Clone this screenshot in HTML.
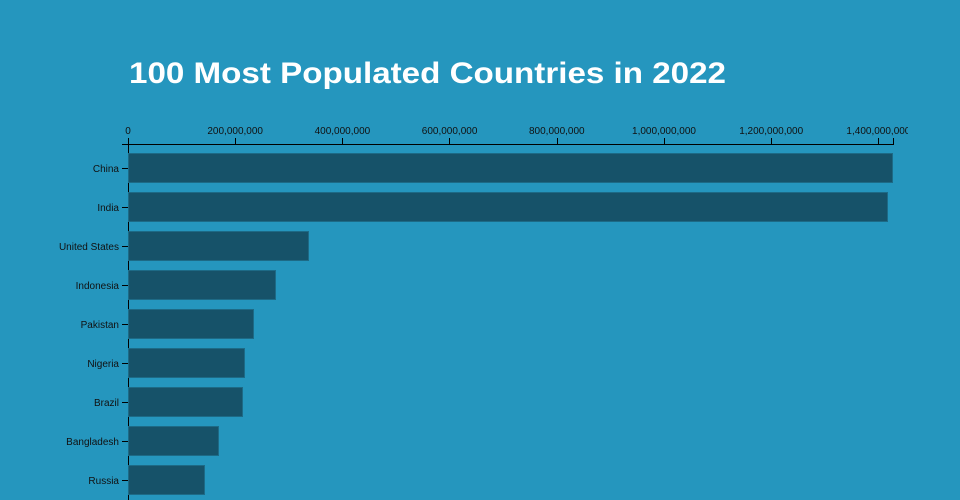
<!DOCTYPE html>
<html><head><meta charset="utf-8"><style>
html,body{margin:0;padding:0;background:#2596be;width:960px;height:500px;overflow:hidden}
svg{display:block;font-family:"Liberation Sans",sans-serif}
</style></head><body>
<svg width="960" height="500" viewBox="0 0 960 500">
<rect width="960" height="500" fill="#2596be"/>
<text x="129" y="83" fill="#fff" font-size="30" font-weight="bold" textLength="597" lengthAdjust="spacingAndGlyphs">100 Most Populated Countries in 2022</text>
<g font-size="10" fill="#111" text-anchor="middle">
<text x="128" y="134">0</text>
<text x="235.2" y="134">200,000,000</text>
<text x="342.4" y="134">400,000,000</text>
<text x="449.6" y="134">600,000,000</text>
<text x="556.8" y="134">800,000,000</text>
<text x="664" y="134">1,000,000,000</text>
<text x="771.2" y="134">1,200,000,000</text>
<text x="878.4" y="134">1,400,000,000</text>
</g>
<rect x="908" y="120" width="52" height="20" fill="#2596be"/>
<g stroke="#000" stroke-width="1" fill="none">
<path d="M128.5,138V144.5H893.5V138"/>
<path d="M235.5,144V138M342.5,144V138M449.5,144V138M557.5,144V138M664.5,144V138M771.5,144V138M878.5,144V138"/>
<path d="M122,144.5H128.5V500"/>
</g>
<g fill="#165269" stroke="#1d6a86" stroke-width="1">
<rect x="128.5" y="153.5" width="764" height="29"/>
<rect x="128.5" y="192.5" width="759" height="29"/>
<rect x="128.5" y="231.5" width="180" height="29"/>
<rect x="128.5" y="270.5" width="147" height="29"/>
<rect x="128.5" y="309.5" width="125" height="29"/>
<rect x="128.5" y="348.5" width="116" height="29"/>
<rect x="128.5" y="387.5" width="114" height="29"/>
<rect x="128.5" y="426.5" width="90" height="29"/>
<rect x="128.5" y="465.5" width="76" height="29"/>
</g>
<g stroke="#000"><path d="M122,168.5H128M122,207.5H128M122,246.5H128M122,285.5H128M122,324.5H128M122,363.5H128M122,402.5H128M122,441.5H128M122,480.5H128"/></g>
<g font-size="10" fill="#111" text-anchor="end">
<text x="119" y="172">China</text>
<text x="119" y="211">India</text>
<text x="119" y="250">United States</text>
<text x="119" y="289">Indonesia</text>
<text x="119" y="328">Pakistan</text>
<text x="119" y="367">Nigeria</text>
<text x="119" y="406">Brazil</text>
<text x="119" y="445">Bangladesh</text>
<text x="119" y="484">Russia</text>
</g>
</svg>
</body></html>
